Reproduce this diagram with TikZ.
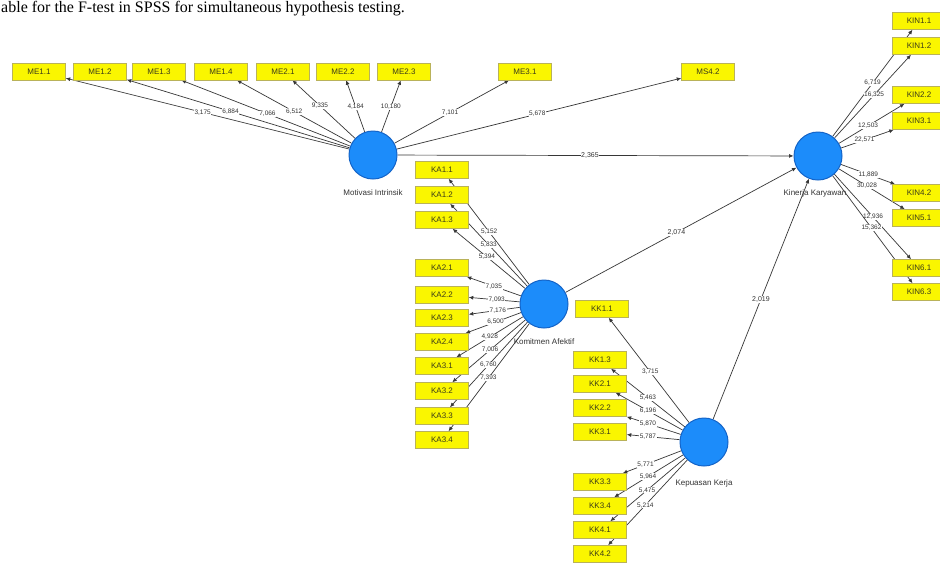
\documentclass[tikz,border=0pt]{standalone}
\usepackage{fontspec}
\setmainfont{Liberation Sans}
\newfontfamily\serifx{Liberation Serif}
\usetikzlibrary{arrows.meta,backgrounds}
\definecolor{boxfill}{RGB}{250,246,0}
\definecolor{boxline}{RGB}{185,178,90}
\definecolor{boxtext}{RGB}{60,60,25}
\definecolor{lvfill}{RGB}{28,140,250}
\definecolor{lvline}{RGB}{20,100,200}
\definecolor{edgec}{RGB}{55,55,55}
\newcommand\pedge[4]{\draw[conn] (#1) -- node[val,pos=#3]{#4} (#2);}
\newcommand\medge[4]{\draw[conn] (#1) -- node[mval,pos=#3]{#4} (#2);}
\begin{document}
\begin{tikzpicture}[x=1pt,y=-1pt,
  ind/.style={draw=boxline, fill=boxfill, line width=0.5pt, minimum width=53pt, minimum height=17pt, inner sep=0pt, font=\fontsize{8}{8}\selectfont, text=boxtext},
  lv/.style={circle, draw=lvline, fill=lvfill, line width=1pt, minimum size=48pt, inner sep=0pt},
  lvlab/.style={font=\fontsize{8}{8}\selectfont, text=black!80, inner sep=1pt},
  conn/.style={draw=edgec, line width=0.7pt, -{Latex[length=4.5pt,width=4pt]}},
  val/.style={fill=white, inner sep=0.6pt, font=\fontsize{6.5}{6.5}\selectfont, text=black!80},
  mval/.style={val, font=\fontsize{7}{7}\selectfont}]
\useasboundingbox (0,0) rectangle (940,566);
\clip (0,0) rectangle (940,566);

% title fragment
\node[anchor=base west, inner sep=0pt, font=\serifx\fontsize{16}{16}\selectfont] (title) at (1,12) {able for the F-test in SPSS for simultaneous hypothesis testing.};

% latent variables
\node[lv] (MI) at (373,155) {};
\node[lvlab] (MIl) at (373,193) {Motivasi Intrinsik};
\node[lv] (KIN) at (818,156) {};
\node[lvlab] (KINl) at (815,193) {Kinerja Karyawan};
\node[lv] (KA) at (544,304) {};
\node[lvlab] (KAl) at (544,342) {Komitmen Afektif};
\node[lv] (KK) at (704,442) {};
\node[lvlab] (KKl) at (704,483) {Kepuasan Kerja};

% ME indicators
\node[ind] (ME11) at (39,71.5) {ME1.1};
\node[ind] (ME12) at (100,71.5) {ME1.2};
\node[ind] (ME13) at (159,71.5) {ME1.3};
\node[ind] (ME14) at (221,71.5) {ME1.4};
\node[ind] (ME21) at (283,71.5) {ME2.1};
\node[ind] (ME22) at (343,71.5) {ME2.2};
\node[ind] (ME23) at (404,71.5) {ME2.3};
\node[ind] (ME31) at (525,71.5) {ME3.1};
\node[ind] (MS42) at (708,71.5) {MS4.2};

% KIN indicators
\node[ind] (KIN11) at (919,21) {KIN1.1};
\node[ind] (KIN12) at (919,46) {KIN1.2};
\node[ind] (KIN22) at (919,95) {KIN2.2};
\node[ind] (KIN31) at (919,121) {KIN3.1};
\node[ind] (KIN42) at (919,193) {KIN4.2};
\node[ind] (KIN51) at (919,218) {KIN5.1};
\node[ind] (KIN61) at (919,268) {KIN6.1};
\node[ind] (KIN63) at (919,292) {KIN6.3};

% KA indicators
\node[ind] (KA11) at (442,170) {KA1.1};
\node[ind] (KA12) at (442,195) {KA1.2};
\node[ind] (KA13) at (442,220) {KA1.3};
\node[ind] (KA21) at (442,268) {KA2.1};
\node[ind] (KA22) at (442,295) {KA2.2};
\node[ind] (KA23) at (442,318) {KA2.3};
\node[ind] (KA24) at (442,342) {KA2.4};
\node[ind] (KA31) at (442,366) {KA3.1};
\node[ind] (KA32) at (442,391) {KA3.2};
\node[ind] (KA33) at (442,416) {KA3.3};
\node[ind] (KA34) at (442,440) {KA3.4};

% KK indicators
\node[ind] (KK11) at (602,309) {KK1.1};
\node[ind] (KK13) at (600,360) {KK1.3};
\node[ind] (KK21) at (600,384) {KK2.1};
\node[ind] (KK22) at (600,408) {KK2.2};
\node[ind] (KK31) at (600,432) {KK3.1};
\node[ind] (KK33) at (600,482) {KK3.3};
\node[ind] (KK34) at (600,506) {KK3.4};
\node[ind] (KK41) at (600,530) {KK4.1};
\node[ind] (KK42) at (600,554) {KK4.2};

\begin{pgfonlayer}{background}
\fill[white] (0,0) rectangle (940,566);
% structural paths
\medge{MI}{KIN}{0.486}{2,365}
\medge{KA}{KIN}{0.48}{2,074}
\medge{KK}{KIN}{0.5}{2,019}
% MI outer loadings
\pedge{MI}{ME11}{0.517}{3,175}
\pedge{MI}{ME12}{0.534}{6,884}
\pedge{MI}{ME13}{0.49}{7,066}
\pedge{MI}{ME14}{0.5}{6,512}
\pedge{MI}{ME21}{0.56}{9,335}
\pedge{MI}{ME22}{0.485}{4,184}
\pedge{MI}{ME23}{0.485}{10,180}
\pedge{MI}{ME31}{0.485}{7,101}
\pedge{MI}{MS42}{0.494}{5,678}
% KIN
\pedge{KIN}{KIN11}{0.5}{6,719}
\pedge{KIN}{KIN12}{0.517}{16,325}
\pedge{KIN}{KIN22}{0.444}{12,503}
\pedge{KIN}{KIN31}{0.445}{22,571}
\pedge{KIN}{KIN42}{0.505}{11,889}
\pedge{KIN}{KIN51}{0.427}{30,028}
\pedge{KIN}{KIN61}{0.504}{12,936}
\pedge{KIN}{KIN63}{0.487}{15,362}
% KA
\pedge{KA}{KA11}{0.497}{5,152}
\pedge{KA}{KA12}{0.5}{5,833}
\pedge{KA}{KA13}{0.527}{5,394}
\pedge{KA}{KA21}{0.5}{7,035}
\pedge{KA}{KA22}{0.45}{7,093}
\pedge{KA}{KA23}{0.43}{7,176}
\pedge{KA}{KA24}{0.46}{6,500}
\pedge{KA}{KA31}{0.5}{4,928}
\pedge{KA}{KA32}{0.483}{7,006}
\pedge{KA}{KA33}{0.505}{6,760}
\pedge{KA}{KA34}{0.506}{7,393}
% KK
\pedge{KK}{KK11}{0.483}{3,715}
\pedge{KK}{KK13}{0.5}{5,463}
\pedge{KK}{KK21}{0.516}{6,196}
\pedge{KK}{KK22}{0.607}{5,870}
\pedge{KK}{KK31}{0.6}{5,787}
\pedge{KK}{KK33}{0.61}{5,771}
\pedge{KK}{KK34}{0.51}{5,964}
\pedge{KK}{KK41}{0.51}{5,475}
\pedge{KK}{KK42}{0.53}{5,214}
\end{pgfonlayer}
\end{tikzpicture}
\end{document}
